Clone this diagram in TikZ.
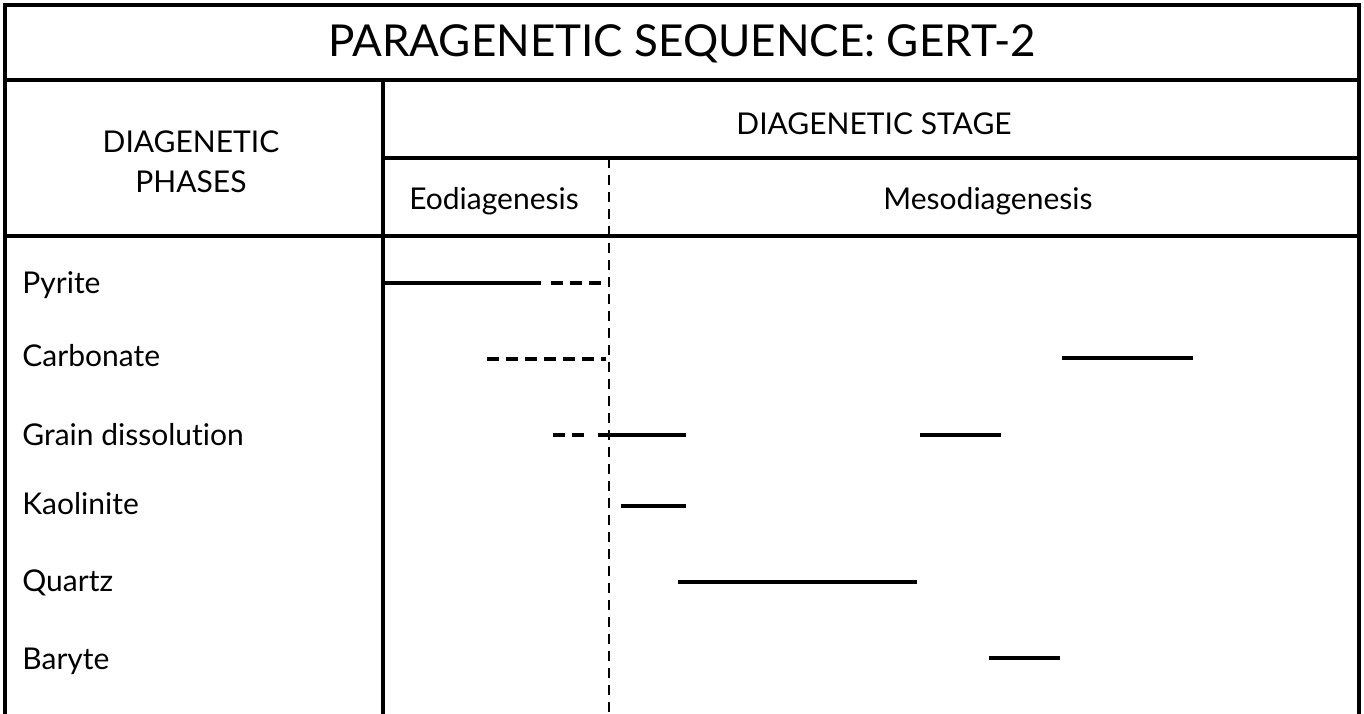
\documentclass[tikz,border=0pt]{standalone}
\usepackage{fontspec}
\setmainfont{Lato}[Ligatures=NoCommon]
\begin{document}
\begin{tikzpicture}[x=0.5pt, y=-0.5pt,
  rule/.style={line width=1.7pt, line cap=rect},
  stagesep/.style={line width=1.4pt, dash pattern=on 5pt off 3.5pt},
  solidbar/.style={line width=2pt},
  dashbar/.style={line width=2pt, dash pattern=on 6pt off 3.5pt},
  title/.style={font=\fontsize{22}{26}\selectfont, inner sep=0pt},
  head/.style={font=\fontsize{15}{20}\selectfont, inner sep=0pt, align=center},
  phase/.style={font=\fontsize{15}{18}\selectfont, inner sep=0pt, anchor=base west}]
\useasboundingbox (0,0) rectangle (1364,713);

% table frame and rules
\draw[rule] (5,713) -- (5,5) -- (1359,5) -- (1359,713);
\draw[rule] (5,80) -- (1359,80);
\draw[rule] (383,80) -- (383,713);
\draw[rule] (383,158) -- (1359,158);
\draw[rule] (5,236) -- (1359,236);
\draw[stagesep] (609,158) -- (609,713);

% headings
\node[title] (ttl) at (682,44) {PARAGENETIC SEQUENCE: GERT-2};
\node[head] (phases) at (191,162) {DIAGENETIC\\PHASES};
\node[head] (stage) at (874,124) {DIAGENETIC STAGE};
\node[head] (eod) at (494,201) {Eodiagenesis};
\node[head] (meso) at (988,201) {Mesodiagenesis};

% phase labels
\node[phase] (pyr) at (22,293) {Pyrite};
\node[phase] (carb) at (22,366) {Carbonate};
\node[phase] (grain) at (22,445) {Grain dissolution};
\node[phase] (kao) at (22,514) {Kaolinite};
\node[phase] (qtz) at (22,591) {Quartz};
\node[phase] (bar) at (22,669) {Baryte};

% bar end points
\coordinate (p0) at (383,283);  \coordinate (p1) at (541,283);  \coordinate (p2) at (607,283);
\coordinate (c0) at (487,359);  \coordinate (c1) at (606,359);
\coordinate (c2) at (1062,358); \coordinate (c3) at (1193,358);
\coordinate (g0) at (553,435);  \coordinate (g1) at (590,435);
\coordinate (g2) at (598,435);  \coordinate (g3) at (686,435);
\coordinate (g4) at (920,435);  \coordinate (g5) at (1001,435);
\coordinate (k0) at (621,506);  \coordinate (k1) at (686,506);
\coordinate (q0) at (678,582);  \coordinate (q1) at (917,582);
\coordinate (b0) at (989,658);  \coordinate (b1) at (1060,658);

% occurrence bars
\draw[solidbar] (p0) -- (p1);
\draw[dashbar] ([xshift=5]p1) -- (p2);
\draw[dashbar] (c0) -- (c1);
\draw[solidbar] (c2) -- (c3);
\draw[dashbar] (g0) -- (g1);
\draw[solidbar] (g2) -- (g3);
\draw[solidbar] (g4) -- (g5);
\draw[solidbar] (k0) -- (k1);
\draw[solidbar] (q0) -- (q1);
\draw[solidbar] (b0) -- (b1);
\end{tikzpicture}
\end{document}
